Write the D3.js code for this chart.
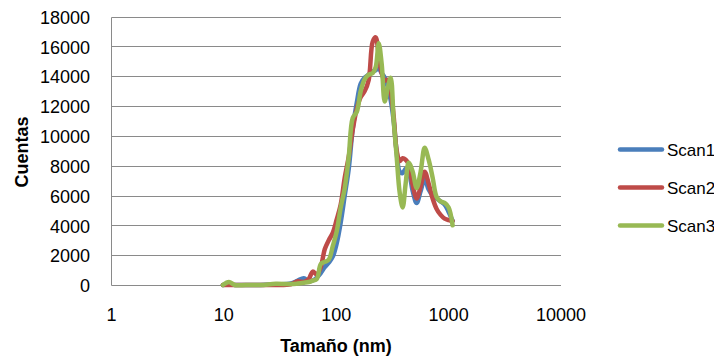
<!DOCTYPE html>
<html><head><meta charset="utf-8">
<script src="https://cdn.jsdelivr.net/npm/d3@7"></script>
<style>
body{margin:0;background:#fff;}
text{font-family:"Liberation Sans",Arial,sans-serif;fill:#000;}
</style></head>
<body><svg id="c" width="714" height="357"></svg>
<script>
const sizes = [9.8,11.1,12.5,15.7,21.3,29.0,39.4,45.5,51.4,56.9,61.8,67.1,72.8,79.0,85.8,93.1,101.0,109.6,119.0,129.2,140.2,152.2,165.1,179.2,194.5,211.1,224.4,238.7,253.8,269.9,287.0,305.1,324.4,345.0,366.8,390.0,414.7,441.0,478.6,519.4,563.7,611.8,664.0,720.6,782.1,848.8,921.3,1000,1085];
const scan1 = [0,50,0,0,0,50,100,300,450,250,300,500,800,1200,1500,1900,2800,4200,6000,7800,10500,12200,13500,13900,14100,14300,14400,14500,14200,13900,13300,12400,11000,8900,7600,7500,7800,7600,6300,5500,6300,7100,6400,6000,5800,5600,5400,4900,4300];
const scan2 = [0,0,0,0,0,0,50,250,200,400,900,700,1200,2400,3000,3500,4400,5400,7200,8600,10400,11800,12600,13000,13750,16300,16600,15400,14200,13700,13750,13000,11300,9000,8300,8500,8400,8100,6700,5800,6600,7600,6800,5800,5100,4700,4450,4350,4300];
const scan3 = [0,200,0,0,0,80,60,100,150,200,300,400,1400,1550,1700,2600,3600,5200,6500,8600,11200,11600,13000,13800,14100,14200,14600,16200,14800,12300,13200,13900,11000,8600,6200,5200,6800,8200,7600,6500,7600,9200,8400,7200,5900,5600,5500,5200,4000];
const seriesNames = ["Scan1","Scan2","Scan3"];
const colors = ["#4A7EBB","#BE4B48","#98B954"];
const xTicks = [1,10,100,1000,10000];
const yTicks = [0,2000,4000,6000,8000,10000,12000,14000,16000,18000];
const xTitle = "Tamaño (nm)";
const yTitle = "Cuentas";

const svg = d3.select("#c");
const x = d3.scaleLog().domain([1,10000]).range([111.5,561]);
const y = d3.scaleLinear().domain([0,18000]).range([285,16.5]);

svg.append("g").selectAll("line").data(yTicks).join("line")
  .attr("x1",111.5).attr("x2",561)
  .attr("y1",d=>Math.round(y(d))+0.5).attr("y2",d=>Math.round(y(d))+0.5)
  .attr("stroke","#8a8a8a").attr("stroke-width",1);
svg.append("line").attr("x1",111.5).attr("x2",111.5)
  .attr("y1",Math.round(y(18000))+0.5).attr("y2",Math.round(y(0))+0.5)
  .attr("stroke","#8a8a8a").attr("stroke-width",1);

svg.append("g").selectAll("text").data(yTicks).join("text")
  .attr("x",90).attr("y",d=>y(d)).attr("dy","0.4em")
  .attr("text-anchor","end").attr("font-size",18).text(d=>d);
svg.append("g").selectAll("text").data(xTicks).join("text")
  .attr("x",d=>x(d)).attr("y",320.5)
  .attr("text-anchor","middle").attr("font-size",18).text(d=>d);

svg.append("text").attr("x",336).attr("y",352).attr("text-anchor","middle")
  .attr("font-size",18).attr("font-weight","bold").text(xTitle);
svg.append("text").attr("transform","translate(28,152) rotate(-90)")
  .attr("text-anchor","middle").attr("font-size",18).attr("font-weight","bold").text(yTitle);

const line = d3.line().x(d=>x(d[0])).y(d=>y(d[1])).curve(d3.curveCatmullRom.alpha(0.5));
[scan1,scan2,scan3].forEach((vals,i)=>{
  svg.append("path").datum(sizes.map((s,j)=>[s,vals[j]]))
    .attr("d",line).attr("fill","none").attr("stroke",colors[i])
    .attr("stroke-width",4.5).attr("stroke-linejoin","round").attr("stroke-linecap","round");
});

const legY = [149.5,187.5,225.5];
seriesNames.forEach((n,i)=>{
  svg.append("line").attr("x1",620).attr("x2",662).attr("y1",legY[i]).attr("y2",legY[i])
    .attr("stroke",colors[i]).attr("stroke-width",4.5).attr("stroke-linecap","round");
  svg.append("text").attr("x",667).attr("y",legY[i]).attr("dy","0.36em")
    .attr("font-size",17).text(n);
});
</script></body></html>
